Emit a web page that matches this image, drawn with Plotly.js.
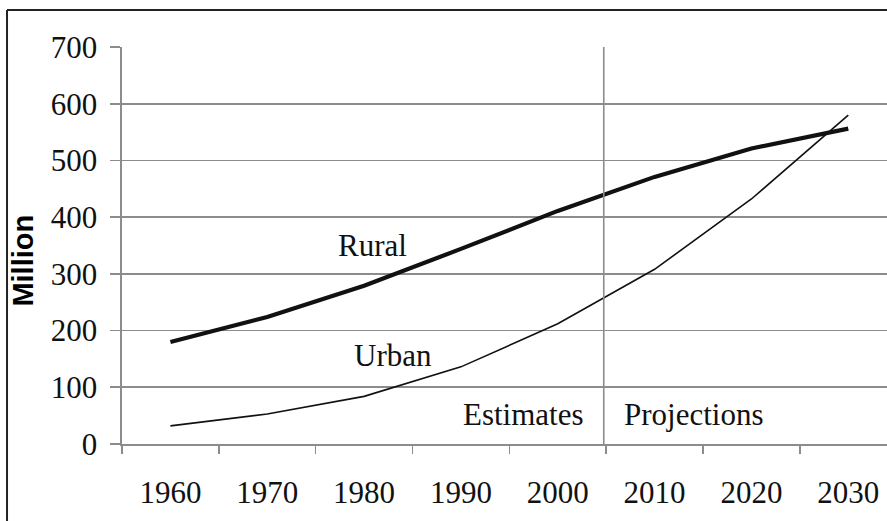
<!DOCTYPE html>
<html>
<head>
<meta charset="utf-8">
<script src="https://cdn.plot.ly/plotly-3.0.1.min.js"></script>
<style>html,body{margin:0;padding:0;background:#fff;}#chart{width:887px;height:521px;}</style>
</head>
<body>
<div id="chart"></div>
<script>
const years = [1960, 1970, 1980, 1990, 2000, 2010, 2020, 2030];
const rural = [180, 224, 279, 344, 411, 471, 521, 556];
const urban = [32, 53, 84, 136, 212, 308, 432, 580];
const splitYear = 2004.75;
const yTitle = 'Million';
const labels = [
  {text: 'Rural', x: 1980.9, y: 350},
  {text: 'Urban', x: 1983.0, y: 156},
  {text: 'Estimates', x: 1996.5, y: 52},
  {text: 'Projections', x: 2014.1, y: 52}
];

const serif = 'Liberation Serif, Times New Roman, serif';
const grid = '#8c8c8c';
const ink = '#111';

const traces = [
  {x: years, y: rural, type: 'scatter', mode: 'lines', name: 'Rural',
   line: {color: '#111', width: 4.2}},
  {x: years, y: urban, type: 'scatter', mode: 'lines', name: 'Urban',
   line: {color: '#111', width: 1.6}}
];

const annotations = labels.map(l => ({
  text: l.text, x: l.x, y: l.y, xref: 'x', yref: 'y',
  showarrow: false, xanchor: 'center', yanchor: 'middle',
  font: {family: serif, size: 31, color: ink}
}));
annotations.push({
  text: yTitle, xref: 'paper', yref: 'paper', x: -0.1294, y: 0.462,
  textangle: -90, showarrow: false, xanchor: 'center', yanchor: 'middle',
  font: {family: 'Liberation Sans, Arial, sans-serif', size: 29, color: '#000', weight: 'bold'}
});

const layout = {
  width: 887, height: 521,
  margin: {l: 122, r: 0, t: 47, b: 77},
  paper_bgcolor: '#fff', plot_bgcolor: '#fff',
  showlegend: false,
  font: {family: serif, size: 31, color: ink},
  xaxis: {
    range: [1955, 2034], tickmode: 'linear', tick0: 1960, dtick: 10,
    ticks: '', showgrid: false, zeroline: false,
    showline: true, linecolor: grid, linewidth: 1.6,
    ticklabelstandoff: 20,
    tickfont: {family: serif, size: 31, color: ink},
    minor: {tickmode: 'linear', tick0: 1955, dtick: 10, ticks: 'outside', ticklen: 8, tickwidth: 1.6, tickcolor: grid, showgrid: false}
  },
  yaxis: {
    range: [0, 700], tickmode: 'linear', tick0: 0, dtick: 100,
    ticks: 'outside', ticklen: 10, tickwidth: 1.6, tickcolor: grid,
    showgrid: true, gridcolor: grid, gridwidth: 1.6,
    zeroline: false, showline: true, linecolor: grid, linewidth: 1.6,
    ticklabelstandoff: 7,
    tickfont: {family: serif, size: 31, color: ink}
  },
  shapes: [
    {type: 'line', xref: 'x', yref: 'y', x0: splitYear, x1: splitYear, y0: 0, y1: 700,
     line: {color: grid, width: 1.6}},
    {type: 'line', xref: 'paper', yref: 'paper', x0: -0.1503, x1: -0.1503, y0: 1.0932, y1: -0.2,
     line: {color: '#222', width: 2}},
    {type: 'line', xref: 'paper', yref: 'paper', x0: -0.1503, x1: 1.01, y0: 1.0932, y1: 1.0932,
     line: {color: '#222', width: 2}}
  ],
  annotations: annotations
};

Plotly.newPlot('chart', traces, layout, {displayModeBar: false, staticPlot: true});
</script>
</body>
</html>
